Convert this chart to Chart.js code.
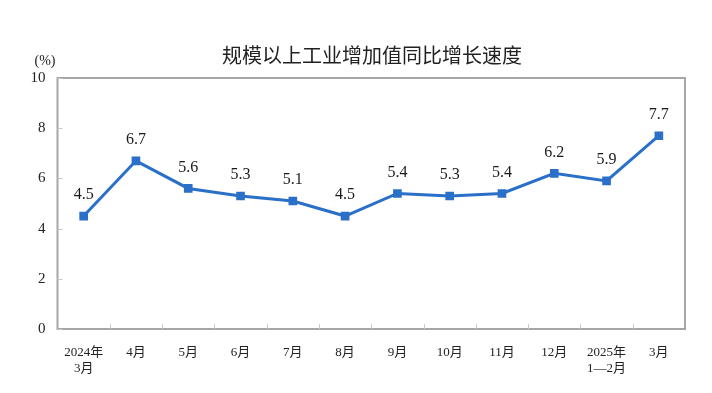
<!DOCTYPE html>
<html><head><meta charset="utf-8">
<script src="https://cdn.jsdelivr.net/npm/chart.js@4"></script>
<style>html,body{margin:0;padding:0;background:#fff}#wrap{width:712px;height:393px}</style>
</head><body><div id="wrap"><canvas id="c" width="712" height="393"></canvas></div>
<script>
const categories = [["2024年","3月"],"4月","5月","6月","7月","8月","9月","10月","11月","12月",["2025年","1—2月"],"3月"];
const growth = [4.5, 6.7, 5.6, 5.3, 5.1, 4.5, 5.4, 5.3, 5.4, 6.2, 5.9, 7.7];
const yTicks = [0, 2, 4, 6, 8, 10];
const titleText = "规模以上工业增加值同比增长速度";
const unitText = "(%)";

const SERIF = '"Liberation Serif","Times New Roman","Noto Sans CJK SC",serif';
const LINE = '#2b70c8';
const BORDER = '#a6a6a6';

const decor = {
  id: 'decor',
  afterDraw(chart) {
    const ctx = chart.ctx, a = chart.chartArea;
    const xs = chart.scales.x, ys = chart.scales.y;
    ctx.save();
    // box border
    ctx.strokeStyle = BORDER; ctx.lineWidth = 2;
    ctx.strokeRect(a.left, a.top, a.right - a.left, a.bottom - a.top);
    // inner ticks
    ctx.lineWidth = 1; ctx.strokeStyle = '#c8c8c8';
    ctx.beginPath();
    yTicks.forEach(v => { const y = Math.round(ys.getPixelForValue(v)) + 0.5; ctx.moveTo(a.left, y); ctx.lineTo(a.left + 5, y); });
    const step = xs.getPixelForValue(1) - xs.getPixelForValue(0);
    for (let i = 1; i < categories.length; i++) {
      const x = Math.round(xs.getPixelForValue(i) - step / 2) + 0.5;
      ctx.moveTo(x, a.bottom); ctx.lineTo(x, a.bottom - 5);
    }
    ctx.stroke();
    // data labels
    ctx.fillStyle = '#1a1a1a'; ctx.font = '16px ' + SERIF;
    ctx.textAlign = 'center'; ctx.textBaseline = 'middle';
    const meta = chart.getDatasetMeta(0);
    meta.data.forEach((p, i) => { ctx.fillText(growth[i].toFixed(1), p.x, p.y - 21); });
    // title
    ctx.fillStyle = '#222'; ctx.font = '20px "Noto Sans CJK SC", sans-serif';
    ctx.fillText(titleText, 372, 55);
    ctx.font = '14px ' + SERIF; ctx.fillStyle = '#222';
    ctx.fillText(unitText, 45, 61);
    ctx.restore();
  }
};

new Chart(document.getElementById('c'), {
  type: 'line',
  data: { labels: categories, datasets: [{
    data: growth, borderColor: LINE, backgroundColor: LINE, borderWidth: 3,
    pointStyle: 'rect', pointRadius: 4, pointHoverRadius: 4, tension: 0
  }]},
  options: {
    responsive: false, animation: false,
    layout: { padding: { top: 78, right: 27, left: 0, bottom: 0 } },
    plugins: { legend: { display: false }, tooltip: { enabled: false }, title: { display: false } },
    scales: {
      x: {
        offset: true,
        grid: { display: false, drawTicks: false },
        border: { display: false },
        ticks: { color: '#222', font: { family: SERIF, size: 13 }, padding: 16, maxRotation: 0, autoSkip: false },
        afterFit(s) { s.height = 64; }
      },
      y: {
        min: 0, max: 10,
        afterBuildTicks(s) { s.ticks = yTicks.map(v => ({ value: v })); },
        grid: { display: false, drawTicks: false },
        border: { display: false },
        ticks: { color: '#222', font: { family: SERIF, size: 15 }, padding: 12 },
        afterFit(s) { s.width = 57.5; }
      }
    }
  },
  plugins: [decor]
});
</script></body></html>
